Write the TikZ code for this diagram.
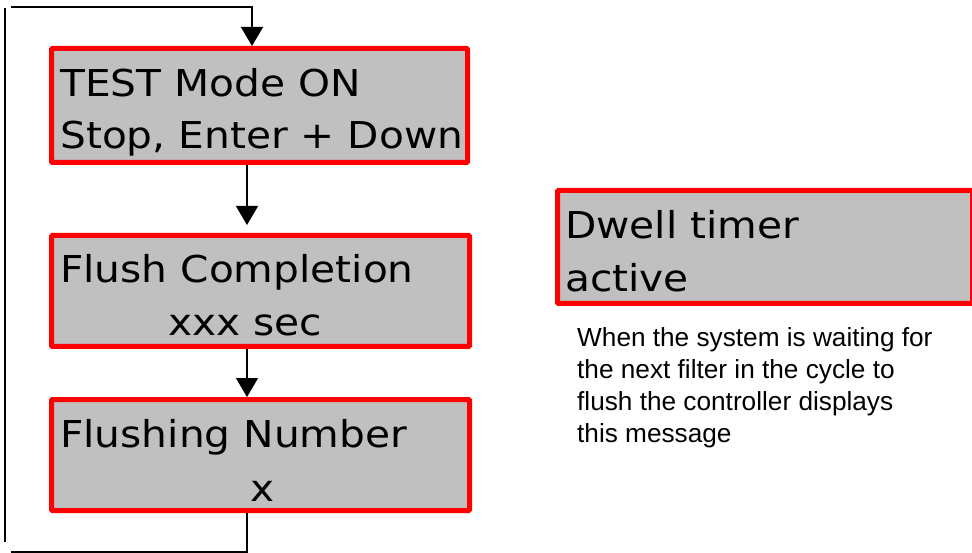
\documentclass[tikz,border=0pt]{standalone}
\usepackage{fontspec}
\usetikzlibrary{arrows.meta}
\newfontfamily\boxfont[FakeStretch=1.1]{DejaVu Sans}
\newfontfamily\notefont{Liberation Sans}
\definecolor{boxgray}{RGB}{192,192,192}
\definecolor{boxred}{RGB}{255,0,0}
\begin{document}
\begin{tikzpicture}[x=1pt,y=-1pt,
  panel/.style={draw=boxred, fill=boxgray, line width=5pt, rectangle, rounded corners=1pt, inner sep=0pt},
  boxtext/.style={anchor=base west, inner sep=0pt, font=\boxfont\fontsize{37}{44}\selectfont},
  notetext/.style={anchor=base west, inner sep=0pt, font=\notefont\fontsize{26.2}{32}\selectfont},
  wire/.style={line width=1.5pt, draw=black},
  flow/.style={wire, -{Triangle[width=22pt,length=19pt]}}]
\useasboundingbox (0,0) rectangle (972,553);

\node[panel, minimum width=416pt, minimum height=114pt] (b1) at (259.5,105.5) {};
\node[panel, minimum width=418pt, minimum height=111pt] (b2) at (260.5,291) {};
\node[panel, minimum width=418pt, minimum height=111pt] (b3) at (260.5,455) {};
\node[panel, minimum width=415pt, minimum height=113pt] (b4) at (765,247) {};

\node[boxtext] (t1a) at (60,97) {TEST Mode ON};
\node[boxtext] (t1b) at (60,149) {Stop, Enter + Down};
\node[boxtext] (t2a) at (60,283) {Flush Completion};
\node[boxtext] (t2b) at (168,336) {xxx sec};
\node[boxtext] (t3a) at (60,447) {Flushing Number};
\node[boxtext] (t3b) at (250,501) {x};
\node[boxtext] (t4a) at (565,239) {Dwell timer};
\node[boxtext] (t4b) at (565,292) {active};

\node[notetext] (n1) at (577,346.5) {When the system is waiting for};
\node[notetext] (n2) at (577,378.5) {the next filter in the cycle to};
\node[notetext] (n3) at (577,410.5) {flush the controller displays};
\node[notetext] (n4) at (577,442.5) {this message};

\coordinate (a0) at (11,7);
\coordinate (a1) at (252,7);
\coordinate (c1) at (247,0);
\coordinate (d1) at (247,552);
\coordinate (d0) at (11,552);
\coordinate (l0) at (5,8);
\coordinate (l1) at (5,542);

\draw[flow] (a0) -- (a1) -- (a1 |- b1.north);
\draw[flow, shorten >=8pt] (b1.south -| c1) -- (b2.north -| c1);
\draw[flow] (b2.south -| c1) -- (b3.north -| c1);
\draw[wire] (b3.south -| c1) -- (d1) -- (d0);
\draw[wire] (l1) -- (l0);
\end{tikzpicture}
\end{document}
